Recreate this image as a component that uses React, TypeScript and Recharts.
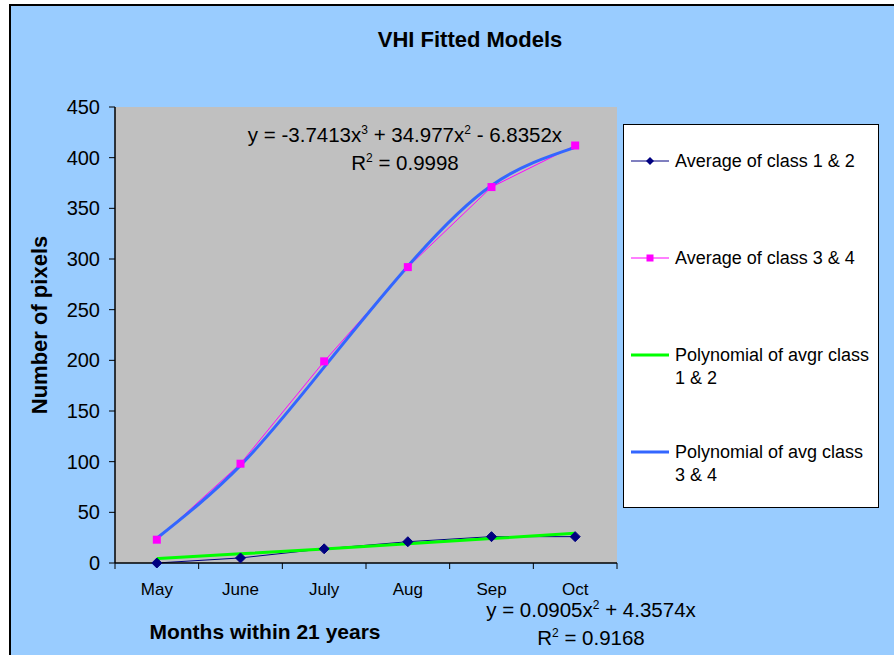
import { LineChart, Line, XAxis, YAxis, CartesianGrid, Legend } from "recharts"

const months = ["May", "June", "July", "Aug", "Sep", "Oct"]
const monthIndex = [1, 2, 3, 4, 5, 6]
const avgClass12 = [0, 5, 14, 21, 26, 26]
const avgClass34 = [23, 98, 199, 292, 371, 412]
const polyClass12 = [4.4, 9.1, 13.9, 18.9, 24.1, 29.4]
const polyClass34 = [24.4, 96.3, 193.3, 292.9, 372.6, 410.1]
const yTicks = [0, 50, 100, 150, 200, 250, 300, 350, 400, 450]
const bandEdges = [0.5, 1.5, 2.5, 3.5, 4.5, 5.5, 6.5]

const data = monthIndex.map((m, i) => ({
  m,
  month: months[i],
  avg12: avgClass12[i],
  avg34: avgClass34[i],
  poly12: polyClass12[i],
  poly34: polyClass34[i],
}))

const legendItems = [
  { name: "Average of class 1 & 2", color: "#000080", marker: "diamond", width: 1 },
  { name: "Average of class 3 & 4", color: "#FF00FF", marker: "square", width: 1 },
  { name: "Polynomial of avgr class 1 & 2", color: "#00FF00", marker: "none", width: 3 },
  { name: "Polynomial of avg class 3 & 4", color: "#3366FF", marker: "none", width: 3 },
]

const font = "'Liberation Sans', Arial, sans-serif"
const supStyle = { fontSize: 12, lineHeight: 0 }

const Diamond = (props: any) => {
  const { cx, cy, index } = props
  if (cx == null || cy == null) return null
  return (
    <polygon
      key={`d-${index}`}
      points={`${cx},${cy - 5} ${cx + 5},${cy} ${cx},${cy + 5} ${cx - 5},${cy}`}
      fill="#000080"
      stroke="#000080"
    />
  )
}

const Square = (props: any) => {
  const { cx, cy, index } = props
  if (cx == null || cy == null) return null
  return <rect key={`s-${index}`} x={cx - 4} y={cy - 4} width={8} height={8} fill="#FF00FF" />
}

const LegendBox = () => (
  <div
    style={{
      width: 256,
      height: 384,
      boxSizing: "border-box",
      background: "#fff",
      border: "1px solid #000",
      paddingTop: 26,
      fontFamily: font,
      fontSize: 18,
      color: "#000",
    }}
  >
    {legendItems.map((item) => (
      <div key={item.name} style={{ height: 97, display: "flex", alignItems: "flex-start" }}>
        <svg width={44} height={20} style={{ flex: "none", marginLeft: 7 }}>
          <line x1={0} y1={10} x2={38} y2={10} stroke={item.color} strokeWidth={item.width} />
          {item.marker === "diamond" && <polygon points="19,6 23,10 19,14 15,10" fill={item.color} />}
          {item.marker === "square" && <rect x={15.5} y={6.5} width={7} height={7} fill={item.color} />}
        </svg>
        <div style={{ width: 200, lineHeight: "23px", marginTop: -1 }}>{item.name}</div>
      </div>
    ))}
  </div>
)

export default function App() {
  return (
    <div style={{ position: "absolute", left: 0, top: 0, width: 894, height: 655, background: "#fff", overflow: "hidden" }}>
      <div
        style={{
          position: "absolute",
          left: 9,
          top: 4,
          width: 900,
          height: 660,
          background: "#99CCFF",
          borderLeft: "2px solid #000",
          borderTop: "2px solid #000",
        }}
      />
      <div style={{ position: "absolute", left: 0, top: 0 }}>
        <LineChart width={894} height={655} data={data} margin={{ top: 107, right: 277, left: 55, bottom: 56 }}>
          <CartesianGrid fill="#C0C0C0" horizontal={false} vertical={false} />
          <XAxis
            xAxisId={0}
            dataKey="m"
            type="number"
            domain={[0.5, 6.5]}
            ticks={bandEdges}
            tickFormatter={() => ""}
            height={6}
            tickSize={6}
            stroke="#000"
            axisLine={{ stroke: "#000", strokeWidth: 1.5 }}
            tickLine={{ stroke: "#000" }}
          />
          <XAxis
            xAxisId="labels"
            dataKey="m"
            type="number"
            domain={[0.5, 6.5]}
            allowDataOverflow
            ticks={monthIndex}
            tickFormatter={(v: number) => months[v - 1]}
            height={30}
            axisLine={false}
            tickLine={false}
            tickSize={0}
            tickMargin={14}
            tick={{ fill: "#000", fontSize: 17, fontFamily: font }}
          />
          <YAxis
            domain={[0, 450]}
            ticks={yTicks}
            width={60}
            tickSize={6}
            tickMargin={9}
            interval={0}
            axisLine={{ stroke: "#000", strokeWidth: 1.5 }}
            tickLine={{ stroke: "#000" }}
            tick={{ fill: "#000", fontSize: 20, fontFamily: font }}
          />
          <Legend
            layout="vertical"
            align="center"
            verticalAlign="middle"
            wrapperStyle={{ left: 623, top: 124, width: 256, height: 384 }}
            content={() => <LegendBox />}
          />
          <Line
            type="linear"
            dataKey="avg12"
            name="Average of class 1 & 2"
            stroke="#000080"
            strokeWidth={1}
            dot={Diamond}
            activeDot={false}
            isAnimationActive={false}
          />
          <Line
            type="linear"
            dataKey="avg34"
            name="Average of class 3 & 4"
            stroke="#FF00FF"
            strokeWidth={1}
            dot={Square}
            activeDot={false}
            isAnimationActive={false}
          />
          <Line
            type="natural"
            dataKey="poly12"
            name="Polynomial of avgr class 1 & 2"
            stroke="#00FF00"
            strokeWidth={3}
            dot={false}
            activeDot={false}
            isAnimationActive={false}
          />
          <Line
            type="natural"
            dataKey="poly34"
            name="Polynomial of avg class 3 & 4"
            stroke="#3366FF"
            strokeWidth={3}
            dot={false}
            activeDot={false}
            isAnimationActive={false}
          />
        </LineChart>
      </div>

      <div style={{ position: "absolute", left: 270, top: 27, width: 400, textAlign: "center", fontFamily: font, fontWeight: "bold", fontSize: 22 }}>
        VHI Fitted Models
      </div>
      <div
        style={{
          position: "absolute",
          left: 40,
          top: 325,
          transform: "translate(-50%, -50%) rotate(-90deg)",
          whiteSpace: "nowrap",
          fontFamily: font,
          fontWeight: "bold",
          fontSize: 22,
        }}
      >
        Number of pixels
      </div>
      <div style={{ position: "absolute", left: 65, top: 620, width: 400, textAlign: "center", fontFamily: font, fontWeight: "bold", fontSize: 21 }}>
        Months within 21 years
      </div>

      <div style={{ position: "absolute", left: 205, top: 121, width: 400, textAlign: "center", fontFamily: font, fontSize: 20.5, lineHeight: "28px" }}>
        <div>
          y = -3.7413x<sup style={supStyle}>3</sup> + 34.977x<sup style={supStyle}>2</sup> - 6.8352x
        </div>
        <div>
          R<sup style={supStyle}>2</sup> = 0.9998
        </div>
      </div>
      <div style={{ position: "absolute", left: 391, top: 596, width: 400, textAlign: "center", fontFamily: font, fontSize: 20.5, lineHeight: "28px" }}>
        <div>
          y = 0.0905x<sup style={supStyle}>2</sup> + 4.3574x
        </div>
        <div>
          R<sup style={supStyle}>2</sup> = 0.9168
        </div>
      </div>
    </div>
  )
}
